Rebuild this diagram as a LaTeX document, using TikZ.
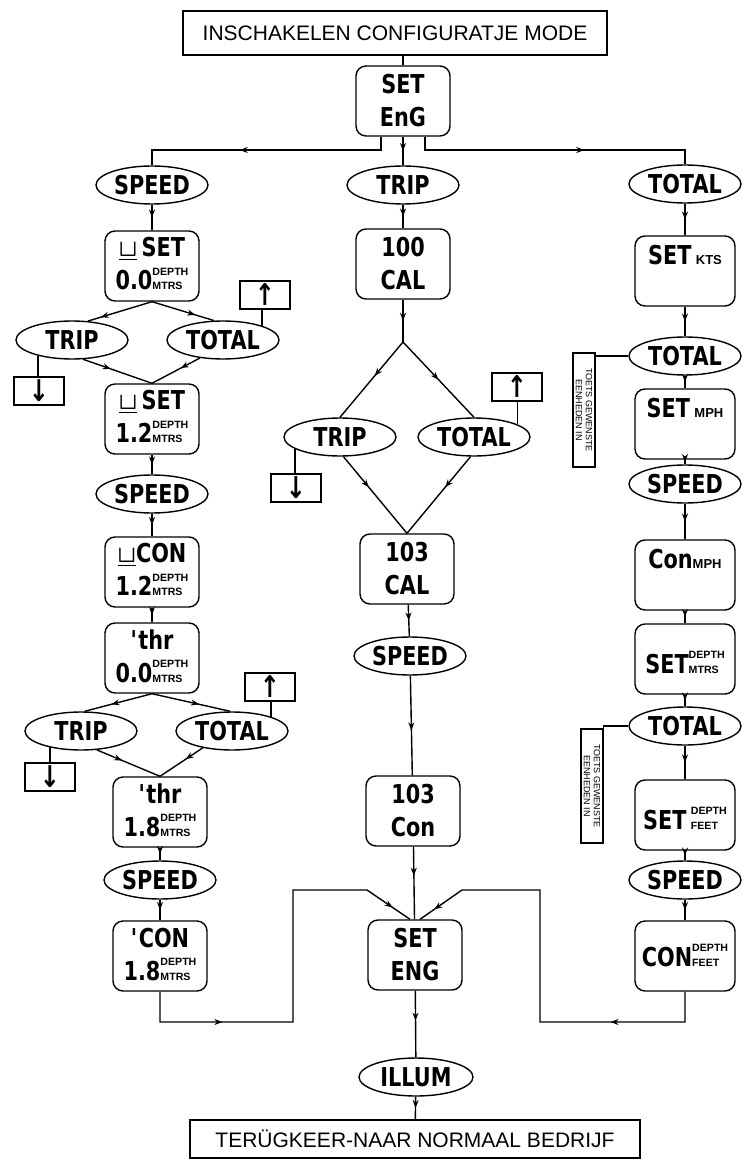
\documentclass[tikz,border=0pt]{standalone}
\usepackage{fontspec}
\usepackage{tikz}
\usetikzlibrary{shapes.geometric, arrows.meta, decorations.markings}
\setmainfont{Liberation Sans}
\newfontfamily\lcd[FakeStretch=0.8]{DejaVu Sans}
\newcommand{\stk}[2]{{\rmfamily\bfseries\fontsize{5.3}{7.2}\selectfont\begin{tabular}[b]{@{}l@{}}#1\\#2\end{tabular}}}
\newcommand{\klein}[1]{{\rmfamily\fontsize{6.5}{7}\selectfont #1}}
\newcommand{\nul}{{\boldmath$\underline{\sqcup}$}}

\begin{document}
\begin{tikzpicture}[x=0.5pt, y=-0.5pt, line width=0.7pt,
    lcdbox/.style={draw, rounded corners=5pt, minimum width=47pt, minimum height=35pt, inner sep=2pt, align=center, font=\lcd\bfseries\fontsize{13}{16.5}\selectfont},
    toets/.style={draw, ellipse, minimum width=56pt, minimum height=19pt, inner sep=0pt, font=\lcd\bfseries\fontsize{13}{14}\selectfont},
    pijlbox/.style={draw, minimum width=25pt, minimum height=14pt, inner sep=0pt, font=\lcd\bfseries\fontsize{15}{15}\selectfont},
    kader/.style={draw, minimum width=212pt, minimum height=22pt, font=\fontsize{10.5}{12}\selectfont},
    notitie/.style={draw, rotate=-90, minimum width=57pt, minimum height=11pt, inner sep=1pt, align=center, font=\fontsize{4.5}{5}\selectfont},
    flow/.style={postaction={decorate, decoration={markings, mark=at position #1 with {\arrow{Stealth[length=4pt,width=3pt]}}}}},
    flow/.default=0.5]
    \useasboundingbox (0,0) rectangle (741,1160);

    % Titel
    \node[kader] (start) at (395,33) {INSCHAKELEN CONFIGURATJE MODE};
    \node[lcdbox] (eng) at (403,101) {SET\\EnG};
    \coordinate (split) at (403,150);

    % === SPEED (links) ===
    \node[toets] (spd1) at (152,185) {SPEED};
    \node[lcdbox] (set08) at (152,266) {\nul\,SET\\0.0\stk{DEPTH}{MTRS}};
    \node[toets] (tripA) at (72,340) {TRIP};
    \node[toets] (totA) at (223,340) {TOTAL};
    \node[pijlbox] (upA) at (265,295) {↑};
    \node[pijlbox] (dnA) at (39,391) {↓};
    \node[lcdbox] (set12) at (152,419) {\nul\,SET\\1.2\stk{DEPTH}{MTRS}};
    \node[toets] (spd2) at (152,494) {SPEED};
    \node[lcdbox] (con12) at (152,572) {\nul CON\\1.2\stk{DEPTH}{MTRS}};
    \node[lcdbox] (thr00) at (152,658) {\textquotesingle thr\\0.0\stk{DEPTH}{MTRS}};
    \node[toets] (tripB) at (81,731) {TRIP};
    \node[toets] (totB) at (232,731) {TOTAL};
    \node[pijlbox] (upB) at (270,687) {↑};
    \node[pijlbox] (dnB) at (50,777) {↓};
    \node[lcdbox] (thr18) at (160,812) {\textquotesingle thr\\1.8\stk{DEPTH}{MTRS}};
    \node[toets] (spd3) at (160,880) {SPEED};
    \node[lcdbox] (con18) at (160,956) {\textquotesingle CON\\1.8\stk{DEPTH}{MTRS}};

    % === TRIP (midden) ===
    \node[toets] (trip0) at (403,185) {TRIP};
    \node[lcdbox] (cal100) at (403,264) {100\\CAL};
    \coordinate (mtop) at (403,342);
    \node[toets] (tripC) at (340,437) {TRIP};
    \node[toets] (totC) at (474,437) {TOTAL};
    \node[pijlbox] (upC) at (517,387) {↑};
    \node[pijlbox] (dnC) at (296,488) {↓};
    \node[lcdbox] (cal103) at (407,569) {103\\CAL};
    \node[toets] (spd4) at (410,656) {SPEED};
    \node[lcdbox] (con103) at (413,811) {103\\Con};
    \node[lcdbox] (engB) at (415,955) {SET\\ENG};
    \node[toets, minimum width=57pt] (illum) at (416,1077) {ILLUM};
    \node[kader, minimum width=225pt, minimum height=19pt] (terug) at (415,1139) {TERÜGKEER-NAAR NORMAAL BEDRIJF};

    % === TOTAL (rechts) ===
    \node[toets] (tot0) at (685,184) {TOTAL};
    \node[lcdbox, minimum width=50pt] (kts) at (685,271) {SET\,\klein{KTS}\\~};
    \node[toets] (totD) at (685,356) {TOTAL};
    \node[notitie] (noteA) at (584,410) {TOETS GEWENSTE\\EENHEDEN IN};
    \node[lcdbox, minimum width=50pt] (mph) at (685,424) {SET\,\klein{MPH}\\~};
    \node[toets] (spd5) at (685,484) {SPEED};
    \node[lcdbox, minimum width=50pt] (conmph) at (685,575) {Con\klein{MPH}\\~};
    \node[lcdbox, minimum width=50pt] (setmtrs) at (685,659) {~\\SET\stk{DEPTH}{MTRS}};
    \node[toets] (totE) at (685,726) {TOTAL};
    \node[notitie] (noteB) at (592,786) {TOETS GEWENSTE\\EENHEDEN IN};
    \node[lcdbox, minimum width=50pt] (feet) at (685,815) {~\\SET\,\stk{DEPTH}{FEET}};
    \node[toets] (spd6) at (685,880) {SPEED};
    \node[lcdbox, minimum width=50pt] (confeet) at (685,956) {CON\stk{DEPTH}{FEET}};

    % Verbindingen boven
    \draw (eng.north) -- (eng.north |- start.south);
    \draw[flow=0.6] ([xshift=-11pt]eng.south) -- ([xshift=-11pt]eng.south |- split) -| (spd1.north);
    \draw[flow] (eng) -- (trip0);
    \draw[flow=0.6] ([xshift=11pt]eng.south) -- ([xshift=11pt]eng.south |- split) -| (tot0.north);

    % Links
    \draw[flow] (spd1) -- (set08);
    \draw[flow=0.8] (set08.south) -- (tripA.50);
    \draw[flow=0.7] (set08.south) -- (totA.115);
    \draw[flow=0.4] (tripA.-60) -- (set12.north);
    \draw[flow=0.4] (totA.218) -- (set12.north);
    \draw (totA.20) -- (totA.20 |- upA.south);
    \draw (tripA.205) -- (tripA.205 |- dnA.north);
    \draw[flow] (set12) -- (spd2);
    \draw[flow] (spd2) -- (con12);
    \draw[flow] (con12) -- (thr00);
    \draw[flow=0.6] (thr00.south) -- (tripB.80);
    \draw[flow=0.6] (thr00.south) -- (totB.95);
    \draw[flow=0.4] (tripB.-50) -- (thr18.north);
    \draw[flow=0.4] (totB.210) -- (thr18.north);
    \draw (totB.20) -- (totB.20 |- upB.south);
    \draw (tripB.208) -- (tripB.208 |- dnB.north);
    \draw[flow] (thr18) -- (spd3);
    \draw[flow] (spd3) -- (con18);

    % Midden
    \draw[flow] (trip0) -- (cal100);
    \draw[flow] (cal100) -- (mtop);
    \draw[flow=0.45] (mtop) -- (tripC.north);
    \draw[flow] (mtop) -- (totC.north);
    \draw[flow=0.4] (tripC.-80) -- (cal103.north);
    \draw[flow=0.4] (totC.-100) -- (cal103.north);
    \draw (totC.16) -- (totC.16 |- upC.south);
    \draw (tripC.195) -- (tripC.195 |- dnC.north);
    \draw[flow] (cal103) -- (spd4);
    \draw[flow=0.55] (spd4) -- (con103);
    \draw[flow=0.4] (con103) -- (engB);
    \draw[flow=0.45] (engB) -- (illum);
    \draw[flow] (illum) -- (terug);

    % Rechts
    \draw[flow] (tot0) -- (kts);
    \draw[flow] (kts) -- (totD);
    \draw[flow] (totD) -- (mph);
    \draw[flow] (mph) -- (spd5);
    \draw[flow] (spd5) -- (conmph);
    \draw[flow] (conmph) -- (setmtrs);
    \draw[flow] (setmtrs) -- (totE);
    \draw[flow] (totE) -- (feet);
    \draw[flow] (feet) -- (spd6);
    \draw[flow] (spd6) -- (confeet);
    \draw (totD.west) -| (noteA.north west);
    \draw (totE.west) -| (noteB.north west);

    % Terug naar SET ENG
    \coordinate (bL) at (293,1022);
    \coordinate (jL) at (293,890);
    \coordinate (kL) at (367,890);
    \coordinate (bR) at (540,1022);
    \coordinate (jR) at (540,890);
    \coordinate (kR) at (462,890);
    \draw[flow=0.22, flow=0.95] (con18.south) |- (bL) -- (jL) -- (kL) -- ([xshift=-2.5pt]engB.north);
    \draw[flow=0.24, flow=0.96] (confeet.south) |- (bR) -- (jR) -- (kR) -- ([xshift=2.5pt]engB.north);
\end{tikzpicture}
\end{document}
